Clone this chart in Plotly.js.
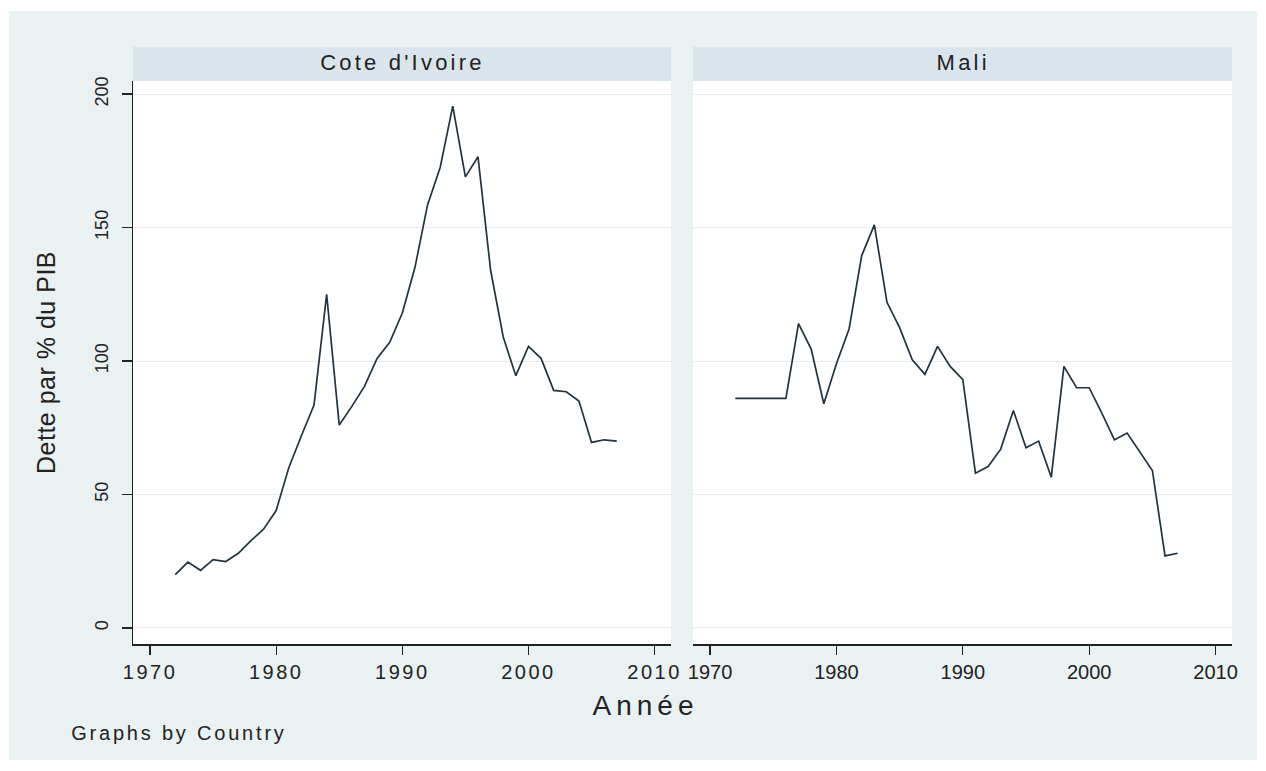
<!DOCTYPE html>
<html>
<head>
<meta charset="utf-8">
<script src="https://cdn.plot.ly/plotly-3.0.1.min.js"></script>
<style>
html, body { margin: 0; padding: 0; background: #ffffff; }
#chart { width: 1266px; height: 771px; }
.xtick text { letter-spacing: 2.5px; }
g.annotation[data-index="0"] text, g.annotation[data-index="1"] text { letter-spacing: 3.2px; }
g.annotation[data-index="2"] text { letter-spacing: 5px; }
g.annotation[data-index="3"] text { letter-spacing: 2.8px; }
g.annotation[data-index="4"] text { letter-spacing: 0.5px; }
</style>
</head>
<body>
<div id="chart"></div>
<script>
// ---- data ----
const years = [1972, 1973, 1974, 1975, 1976, 1977, 1978, 1979, 1980, 1981,
               1982, 1983, 1984, 1985, 1986, 1987, 1988, 1989, 1990, 1991,
               1992, 1993, 1994, 1995, 1996, 1997, 1998, 1999, 2000, 2001,
               2002, 2003, 2004, 2005, 2006, 2007];
const coteIvoire = [20, 24.7, 21.6, 25.6, 24.9, 28, 32.7, 37, 44, 60,
                    72, 83.5, 125, 76, 83, 90.5, 101, 107, 118, 135,
                    158.5, 172.5, 195.5, 169, 176.5, 134, 109, 94.5, 105.5, 101,
                    89, 88.5, 85, 69.5, 70.5, 70];
const mali = [86, 86, 86, 86, 86, 114, 104.5, 84, 99, 112,
              139.5, 151, 122, 112.5, 100.5, 95, 105.5, 98, 93, 58,
              60.5, 67, 81.5, 67.5, 70, 56.5, 98, 90, 90, 80.5,
              70.5, 73, 66, 59, 27, 28];
const countries = ["Cote d'Ivoire", "Mali"];
const xTicks = [1970, 1980, 1990, 2000, 2010];
const yTicks = [0, 50, 100, 150, 200];
const yTitle = "Dette par % du PIB";
const xTitle = "Année";
const note = "Graphs by Country";

// ---- layout geometry (pixels of the 1266x771 page) ----
const W = 1266, H = 771;
const px = v => v / W;
const py = v => 1 - v / H;
const dom1 = [px(133), px(671)];
const dom2 = [px(693), px(1232)];
const domY = [py(644), py(81)];
const stripY = [py(81), py(47)];
const xRange = [1968.65, 2011.3];
const yRange = [-6, 204.9];

const FONT = "Liberation Sans, Arial, sans-serif";
const lineColor = "#22333f";

const traces = [
  { x: years, y: coteIvoire, type: "scatter", mode: "lines", xaxis: "x", yaxis: "y",
    line: { color: lineColor, width: 1.7 }, name: countries[0], showlegend: false },
  { x: years, y: mali, type: "scatter", mode: "lines", xaxis: "x2", yaxis: "y2",
    line: { color: lineColor, width: 1.7 }, name: countries[1], showlegend: false }
];

const xaxisBase = {
  range: xRange, tickvals: xTicks, ticktext: xTicks.map(String),
  ticks: "outside", ticklen: 9, tickwidth: 1.3, tickcolor: "#222",
  showline: true, linecolor: "#222", linewidth: 1.5,
  showgrid: false, zeroline: false, fixedrange: true,
  tickfont: { family: FONT, size: 20, color: "#222" }
};

const layout = {
  width: W, height: H,
  margin: { l: 0, r: 0, t: 0, b: 0 },
  paper_bgcolor: "#ffffff",
  plot_bgcolor: "rgba(0,0,0,0)",
  showlegend: false,
  font: { family: FONT, color: "#222" },
  xaxis: Object.assign({}, xaxisBase, { domain: dom1, anchor: "y" }),
  xaxis2: Object.assign({}, xaxisBase, { domain: dom2, anchor: "y2" }),
  yaxis: {
    domain: domY, range: yRange, anchor: "x",
    tickvals: yTicks, ticktext: yTicks.map(String),
    ticks: "outside", ticklen: 10, tickwidth: 1.3, tickcolor: "#222",
    showline: true, linecolor: "#222", linewidth: 1.5,
    showgrid: true, gridcolor: "#ebebeb", gridwidth: 1, zeroline: false,
    tickangle: -90, ticklabelstandoff: 6,
    tickfont: { family: FONT, size: 18, color: "#222" }, fixedrange: true
  },
  yaxis2: {
    domain: domY, range: yRange, anchor: "x2",
    tickvals: yTicks, showticklabels: false, ticks: "",
    showline: false, showgrid: true, gridcolor: "#ebebeb", gridwidth: 1,
    zeroline: false, fixedrange: true
  },
  shapes: [
    { type: "rect", xref: "paper", yref: "paper", x0: px(9), x1: px(1257), y0: py(760), y1: py(11),
      fillcolor: "#eaf1f3", line: { width: 0 }, layer: "below" },
    { type: "rect", xref: "paper", yref: "paper", x0: dom1[0], x1: dom1[1], y0: domY[0], y1: domY[1],
      fillcolor: "#ffffff", line: { width: 0 }, layer: "below" },
    { type: "rect", xref: "paper", yref: "paper", x0: dom2[0], x1: dom2[1], y0: domY[0], y1: domY[1],
      fillcolor: "#ffffff", line: { width: 0 }, layer: "below" },
    { type: "rect", xref: "paper", yref: "paper", x0: dom1[0], x1: dom1[1], y0: stripY[0], y1: stripY[1],
      fillcolor: "#d9e5ea", line: { width: 0 }, layer: "below" },
    { type: "rect", xref: "paper", yref: "paper", x0: dom2[0], x1: dom2[1], y0: stripY[0], y1: stripY[1],
      fillcolor: "#d9e5ea", line: { width: 0 }, layer: "below" }
  ],
  annotations: [
    { text: countries[0], xref: "paper", yref: "paper", x: (dom1[0] + dom1[1]) / 2, y: py(62),
      xanchor: "center", yanchor: "middle", showarrow: false, font: { family: FONT, size: 22, color: "#222" } },
    { text: countries[1], xref: "paper", yref: "paper", x: (dom2[0] + dom2[1]) / 2, y: py(62),
      xanchor: "center", yanchor: "middle", showarrow: false, font: { family: FONT, size: 22, color: "#222" } },
    { text: xTitle, xref: "paper", yref: "paper", x: px(645), y: py(705),
      xanchor: "center", yanchor: "middle", showarrow: false, font: { family: FONT, size: 28, color: "#222" } },
    { text: note, xref: "paper", yref: "paper", x: px(179), y: py(733),
      xanchor: "center", yanchor: "middle", showarrow: false, font: { family: FONT, size: 20, color: "#222" } },
    { text: yTitle, xref: "paper", yref: "paper", x: px(45), y: (domY[0] + domY[1]) / 2,
      xanchor: "center", yanchor: "middle", textangle: -90, showarrow: false,
      font: { family: FONT, size: 25, color: "#222" } }
  ]
};

Plotly.newPlot("chart", traces, layout, { displayModeBar: false, staticPlot: true });
</script>
</body>
</html>
